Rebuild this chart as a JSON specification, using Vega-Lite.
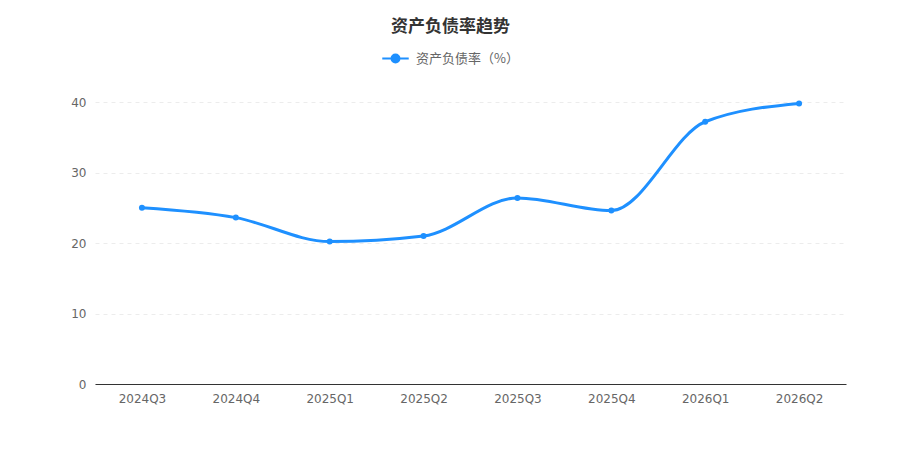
{
  "$schema": "https://vega.github.io/schema/vega-lite/v6.json",
  "width": 751,
  "height": 282,
  "autosize": {"type": "none"},
  "padding": {"left": 95, "top": 102, "right": 54, "bottom": 66},
  "background": "white",
  "config": {
    "font": "DejaVu Sans, Noto Sans CJK SC",
    "view": {"stroke": null}
  },
  "title": {
    "text": "资产负债率趋势",
    "font": "Noto Sans CJK SC",
    "fontSize": 17,
    "fontWeight": "bold",
    "color": "#333333",
    "anchor": "middle",
    "dx": -20,
    "offset": 8
  },
  "data": {
    "values": [
      {"quarter": "2024Q3", "ratio": 25.0},
      {"quarter": "2024Q4", "ratio": 23.6},
      {"quarter": "2025Q1", "ratio": 20.2},
      {"quarter": "2025Q2", "ratio": 21.0},
      {"quarter": "2025Q3", "ratio": 26.4},
      {"quarter": "2025Q4", "ratio": 24.6},
      {"quarter": "2026Q1", "ratio": 37.2},
      {"quarter": "2026Q2", "ratio": 39.8}
    ]
  },
  "mark": {
    "type": "line",
    "interpolate": "monotone",
    "strokeWidth": 3,
    "point": {"filled": true, "size": 36}
  },
  "encoding": {
    "x": {
      "field": "quarter",
      "type": "ordinal",
      "sort": null,
      "scale": {"type": "point", "padding": 0.5},
      "axis": {
        "title": null,
        "labelAngle": 0,
        "ticks": false,
        "grid": false,
        "domainColor": "#333333",
        "labelColor": "#666666",
        "labelFontSize": 12,
        "labelPadding": 9
      }
    },
    "y": {
      "field": "ratio",
      "type": "quantitative",
      "scale": {"domain": [0, 40], "nice": false},
      "axis": {
        "title": null,
        "values": [0, 10, 20, 30, 40],
        "domain": false,
        "ticks": false,
        "gridColor": "#ececec",
        "gridDash": [4, 4],
        "labelColor": "#666666",
        "labelFontSize": 12,
        "labelPadding": 9
      }
    },
    "color": {
      "datum": "资产负债率（%）",
      "type": "nominal",
      "scale": {"range": ["#1e90ff"]},
      "legend": {
        "title": null,
        "orient": "none",
        "legendX": 286,
        "legendY": -58,
        "symbolType": "M -1 0 L -0.3 0 M 0.3 0 L 1 0 M 0.3 0 A 0.3 0.3 0 1 1 -0.3 0 A 0.3 0.3 0 1 1 0.3 0 Z",
        "symbolSize": 700,
        "symbolStrokeWidth": 2,
        "symbolFillColor": "#1e90ff",
        "symbolStrokeColor": "#1e90ff",
        "labelFont": "Noto Sans CJK SC",
        "labelFontSize": 13,
        "labelColor": "#666666",
        "labelOffset": 6
      }
    }
  }
}
